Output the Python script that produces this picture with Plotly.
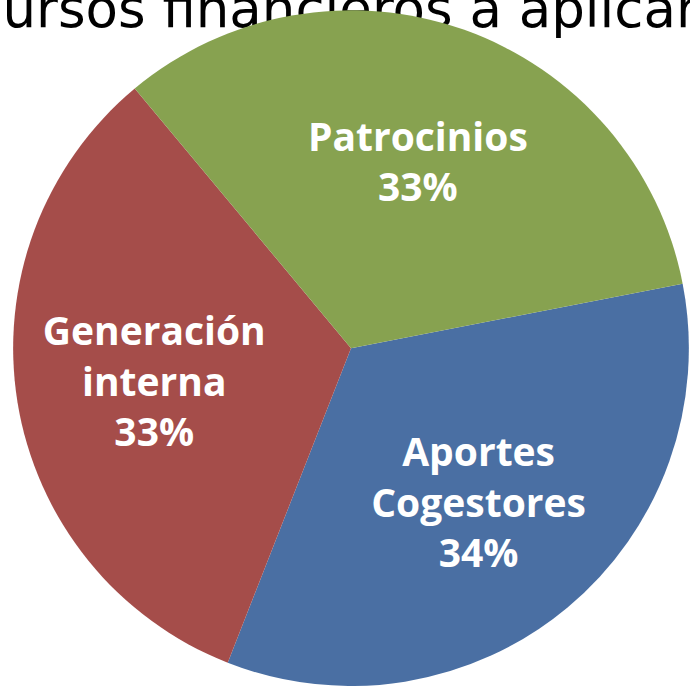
import plotly.graph_objects as go

# ---- data ----
title_text = "Recursos financieros a aplicar"
categories = ["Aportes<br>Cogestores", "Generación<br>interna", "Patrocinios"]
values = [34, 33, 33]
colors = ["#4A6FA3", "#A54D4A", "#87A250"]

fig = go.Figure()

# title text drawn beneath the pie (pie overlaps it in the reference)
fig.add_trace(go.Scatter(
    x=[0.4377], y=[0.98], mode="text", text=[title_text],
    textposition="middle center",
    textfont=dict(family="DejaVu Sans", size=53, color="black"),
    hoverinfo="skip", showlegend=False,
))

pie_common = dict(
    labels=categories,
    values=values,
    sort=False,
    direction="clockwise",
    rotation=79,
    domain=dict(x=[0.0174, 1.0], y=[0.0, 0.985]),
    showlegend=False,
)

# coloured slices
fig.add_trace(go.Pie(
    **pie_common,
    marker=dict(colors=colors, line=dict(width=0)),
    textinfo="none",
    hoverinfo="label+percent",
))

# slice labels (same slices, transparent fill, ring shape pushes labels outward)
fig.add_trace(go.Pie(
    **pie_common,
    hole=0.18,
    marker=dict(colors=["rgba(0,0,0,0)"] * len(values), line=dict(width=0)),
    texttemplate="%{label}<br>%{percent:.0%}",
    textposition="inside",
    insidetextorientation="horizontal",
    textfont=dict(family="Open Sans", size=39, color="white", weight="bold"),
    hoverinfo="skip",
))

fig.update_layout(
    width=690, height=686,
    margin=dict(l=0, r=0, t=0, b=0),
    paper_bgcolor="white",
    plot_bgcolor="rgba(0,0,0,0)",
    xaxis=dict(visible=False, range=[0, 1], domain=[0, 1], fixedrange=True),
    yaxis=dict(visible=False, range=[0, 1], domain=[0, 1], fixedrange=True),
    showlegend=False,
)

fig.write_html(
    "out.html",
    config={"displayModeBar": False},
    post_script="document.body.style.margin='0';",
)
